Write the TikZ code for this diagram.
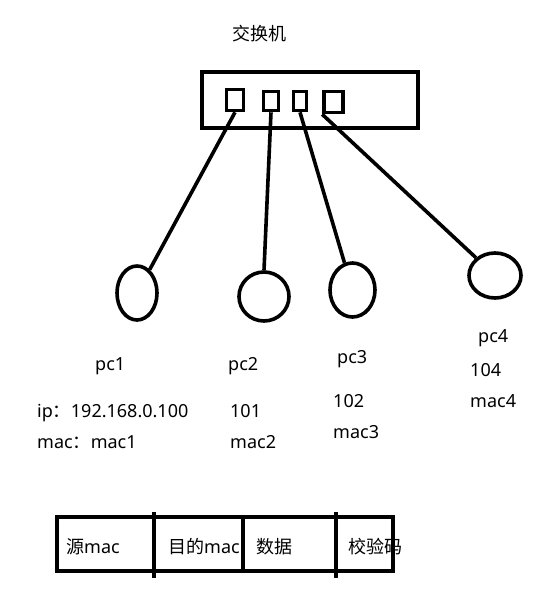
\documentclass[tikz,border=0pt]{standalone}
\usepackage{fontspec}
\setmainfont{Noto Sans}
\newfontfamily\cjk{Noto Sans CJK SC}
\usetikzlibrary{shapes.geometric}
\begin{document}
\begin{tikzpicture}[x=1pt,y=-1pt,
  thick line/.style={line width=3.6pt},
  port/.style={draw,thick line,rectangle,inner sep=0pt},
  pc/.style={draw,thick line,ellipse,inner sep=0pt},
  lbl/.style={anchor=base west,inner sep=0pt,font=\fontsize{18}{20}\selectfont}]
\useasboundingbox (0,0) rectangle (556,591);
% switch
\node[lbl] (title) at (232,41) {\cjk 交换机};
\node[draw,thick line,rectangle,inner sep=0pt,minimum width=216pt,minimum height=56pt] (sw) at (310,100) {};
\node[port,minimum width=17pt,minimum height=21pt] (p1) at (235,100) {};
\node[port,minimum width=15pt,minimum height=19pt] (p2) at (271,101) {};
\node[port,minimum width=13pt,minimum height=19pt] (p3) at (300,101) {};
\node[port,minimum width=19pt,minimum height=21pt] (p4) at (333.5,102) {};
% pcs
\node[pc,minimum width=40pt,minimum height=54pt] (e1) at (137,293) {};
\node[pc,minimum width=50pt,minimum height=49pt] (e2) at (264,296.5) {};
\node[pc,minimum width=45pt,minimum height=54pt] (e3) at (352.5,290) {};
\node[pc,minimum width=52pt,minimum height=45pt] (e4) at (495,275.5) {};
\draw[thick line] (p1.south) -- (e1);
\draw[thick line] (p2.south) -- (e2.north);
\draw[thick line] (p3.south) -- (e3);
\draw[thick line] (p4.south west) -- (e4);
% labels
\node[lbl] (l1) at (95,370) {pc1};
\node[lbl] (l2) at (228,370) {pc2};
\node[lbl] (l3) at (337,363) {pc3};
\node[lbl] (l4) at (478,342) {pc4};
\node[lbl] (ip1) at (37,417) {ip{\cjk ：}192.168.0.100};
\node[lbl] (mac1) at (37,448) {mac{\cjk ：}mac1};
\node[lbl] (ip2) at (230,417) {101};
\node[lbl] (mac2) at (230,448) {mac2};
\node[lbl] (ip3) at (333,407) {102};
\node[lbl] (mac3) at (333,438) {mac3};
\node[lbl] (ip4) at (470,376) {104};
\node[lbl] (mac4) at (470,407) {mac4};
% frame
\node[draw,thick line,rectangle,inner sep=0pt,minimum width=336pt,minimum height=54pt] (frame) at (225,544) {};
\coordinate (d1t) at (154,512); \coordinate (d1b) at (154,578);
\coordinate (d2t) at (243,517); \coordinate (d2b) at (243,571);
\coordinate (d3t) at (336,512); \coordinate (d3b) at (336,578);
\draw[thick line] (d1t) -- (d1b);
\draw[thick line] (d2t) -- (d2b);
\draw[thick line] (d3t) -- (d3b);
\node[lbl] (f1) at (66,553) {{\cjk 源}mac};
\node[lbl] (f2) at (168,553) {{\cjk 目的}mac};
\node[lbl] (f3) at (256,553) {\cjk 数据};
\node[lbl] (f4) at (348,553) {\cjk 校验码};
\end{tikzpicture}
\end{document}
